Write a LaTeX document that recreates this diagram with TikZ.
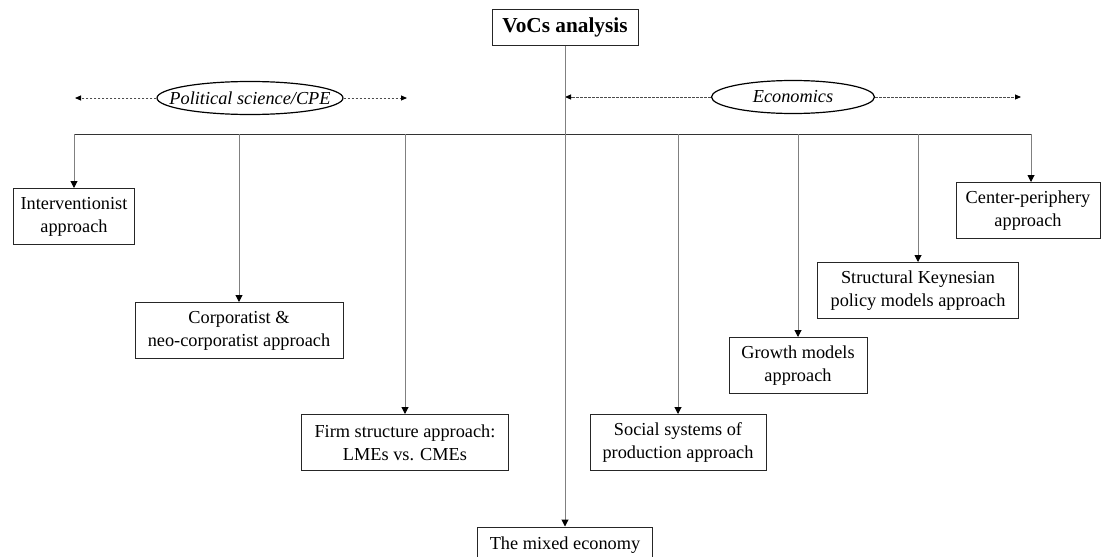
\documentclass[tikz,border=0pt]{standalone}
\usepackage{fontspec}
\setmainfont{Liberation Serif}
\usetikzlibrary{positioning, shapes.geometric, arrows.meta}

\begin{document}
\begin{tikzpicture}[
  x=1pt, y=1pt,
  font=\fontsize{18.3}{23}\selectfont,
  root/.style={draw=black!85, line width=1pt, rectangle, font=\fontsize{21.3}{25}\selectfont\bfseries, minimum width=146pt, minimum height=36pt, inner sep=0pt},
  field/.style={draw=black, ellipse, line width=1.2pt, minimum width=#1, minimum height=33pt, inner sep=0pt, font=\fontsize{18.3}{23}\selectfont\itshape},
  approach/.style={draw=black!85, line width=1pt, fill=white, rectangle, align=center, minimum width=#1, minimum height=56pt, inner sep=0pt},
  drop/.style={draw=gray, line width=1pt, -{Triangle[length=7pt, width=7pt, color=black]}},
  reach/.style={draw=black!70, line width=0.9pt, dash pattern=on 2.5pt off 1.5pt, -{Triangle[length=6pt, width=5pt, color=black]}},
  bar/.style={draw=black!80, line width=1pt}
]
\useasboundingbox (0,0) rectangle (1101,-557);
\clip (0,0) rectangle (1101,-557);

% Root
\node[root] (VoCs) at (565,-27) {VoCs analysis};

% Fields
\node[field=186pt] (PoliticalScience) at (250,-98) {\makebox[0pt]{Political science/CPE}};
\node[field=163pt] (Economics) at (793,-97) {\makebox[0pt]{Economics}};
\coordinate (PoliticalLeft) at (75,-98);
\coordinate (PoliticalRight) at (407,-98);
\coordinate (EconomicsRight) at (1021,-97);

% Bar of approaches
\coordinate (tapA) at (74,-134);
\coordinate (tapB) at (239,-134);
\coordinate (tapC) at (405,-134);
\coordinate (tapD) at (678,-134);
\coordinate (tapE) at (798,-134);
\coordinate (tapF) at (918,-134);
\coordinate (tapG) at (1031,-134);

% Political science approaches
\node[approach=121pt, below=54pt of tapA] (Interventionist) {Interventionist\\approach};
\node[approach=208pt, below=168pt of tapB] (Corporatist) {Corporatist \&\\neo-corporatist approach};
\node[approach=207pt, below=280pt of tapC] (FirmStructure) {Firm structure approach:\\LMEs vs. CMEs};

% Economics approaches
\node[approach=176pt, below=280pt of tapD] (SocialSystems) {Social systems of\\production approach};
\node[approach=138pt, below=203pt of tapE] (GrowthModels) {Growth models\\approach};
\node[approach=201pt, below=128pt of tapF] (StructuralKeynesian) {Structural Keynesian\\policy models approach};
\node[approach=144pt, below=48pt of tapG, xshift=-3pt] (CenterPeriphery) {Center-periphery\\approach};

\node[approach=175pt, minimum height=36pt, below=481pt of VoCs] (MixedEconomy) {The mixed economy};

% Field ranges
\draw[reach] (PoliticalScience.west) -- (PoliticalLeft);
\draw[reach] (PoliticalScience.east) -- (PoliticalRight);
\draw[reach] (Economics.west) -- (VoCs |- Economics);
\draw[reach] (Economics.east) -- (EconomicsRight);

% Connections
\draw[bar] (tapA) -- (tapG);
\draw[drop] (VoCs) -- (MixedEconomy);
\draw[drop] (tapA) -- (Interventionist);
\draw[drop] (tapB) -- (Corporatist);
\draw[drop] (tapC) -- (FirmStructure);
\draw[drop] (tapD) -- (SocialSystems);
\draw[drop] (tapE) -- (GrowthModels);
\draw[drop] (tapF) -- (StructuralKeynesian);
\draw[drop] (tapG) -- (tapG |- CenterPeriphery.north);

\end{tikzpicture}
\end{document}
